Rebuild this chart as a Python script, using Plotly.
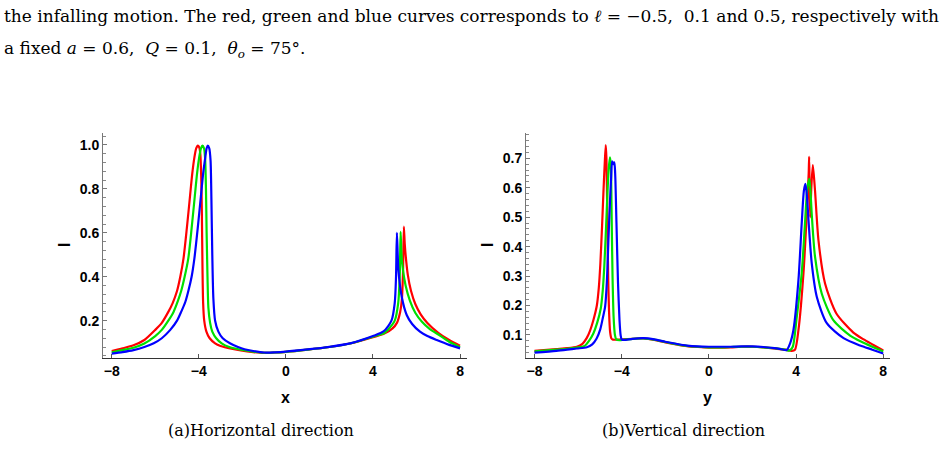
import plotly.graph_objects as go

# ---------------- data: (a) horizontal direction ----------------
h_red_x = [-8, -7.5, -7, -6.5, -6, -5.7, -5.4, -5.2, -5.0, -4.85, -4.7, -4.55, -4.4, -4.3, -4.2,
           -4.12, -4.05, -3.98, -3.93, -3.89, -3.86, -3.83, -3.80, -3.75, -3.65, -3.5, -3.25, -3.0,
           -2.5, -2.0, -1.5, -1.0, -0.5, 0, 1, 2, 3, 4, 4.5, 4.9, 5.1, 5.25, 5.33, 5.38, 5.42, 5.46,
           5.5, 5.6, 5.75, 5.95, 6.2, 6.5, 7.0, 7.5, 8]
h_red_I = [0.062, 0.074, 0.088, 0.112, 0.158, 0.190, 0.240, 0.280, 0.335, 0.400, 0.485, 0.620, 0.770,
           0.870, 0.945, 0.985, 0.997, 0.990, 0.960, 0.860, 0.700, 0.440, 0.280, 0.200, 0.150, 0.120,
           0.097, 0.085, 0.072, 0.063, 0.057, 0.053, 0.055, 0.058, 0.068, 0.080, 0.097, 0.125, 0.140,
           0.165, 0.190, 0.240, 0.300, 0.420, 0.628, 0.550, 0.500, 0.410, 0.335, 0.275, 0.228, 0.190,
           0.145, 0.112, 0.086]

h_green_x = [-8, -7.5, -7, -6.5, -6, -5.7, -5.4, -5.16, -4.96, -4.81, -4.65, -4.48, -4.33, -4.18,
             -4.08, -3.98, -3.9, -3.83, -3.76, -3.71, -3.67, -3.64, -3.60, -3.56, -3.48, -3.38, -3.2,
             -2.95, -2.6, -2.18, -1.5, -1.0, -0.5, 0, 1, 2, 3, 4, 4.5, 4.7, 5.0, 5.16, 5.23, 5.27,
             5.31, 5.38, 5.5, 5.7, 5.95, 6.25, 6.6, 7.08, 7.5, 8]
h_green_I = [0.056, 0.066, 0.077, 0.096, 0.130, 0.158, 0.200, 0.240, 0.290, 0.335, 0.400, 0.485, 0.620,
             0.770, 0.870, 0.945, 0.985, 0.997, 0.985, 0.940, 0.800, 0.600, 0.400, 0.260, 0.190, 0.150,
             0.120, 0.097, 0.080, 0.070, 0.059, 0.054, 0.055, 0.058, 0.068, 0.080, 0.097, 0.127, 0.143,
             0.160, 0.200, 0.280, 0.400, 0.605, 0.500, 0.430, 0.360, 0.290, 0.235, 0.195, 0.163, 0.132,
             0.104, 0.079]

h_blue_x = [-8, -7.5, -7, -6.5, -6.07, -5.7, -5.31, -5.0, -4.81, -4.62, -4.48, -4.33, -4.2, -4.05,
            -3.9, -3.8, -3.7, -3.64, -3.59, -3.52, -3.46, -3.42, -3.38, -3.33, -3.25, -3.1, -2.9,
            -2.57, -2.2, -1.9, -1.5, -1.0, -0.5, 0, 1, 2, 3, 4, 4.5, 4.85, 5.0, 5.06, 5.1, 5.17,
            5.32, 5.55, 5.8, 6.16, 6.5, 6.93, 7.5, 8]
h_blue_I = [0.050, 0.057, 0.066, 0.080, 0.097, 0.120, 0.158, 0.200, 0.240, 0.285, 0.335, 0.400, 0.485,
            0.620, 0.770, 0.870, 0.945, 0.985, 0.997, 0.985, 0.930, 0.750, 0.500, 0.300, 0.200, 0.150,
            0.120, 0.097, 0.080, 0.070, 0.062, 0.055, 0.056, 0.059, 0.069, 0.081, 0.098, 0.130, 0.152,
            0.200, 0.280, 0.400, 0.600, 0.430, 0.310, 0.226, 0.185, 0.150, 0.130, 0.112, 0.090, 0.074]

# ---------------- data: (b) vertical direction ----------------
v_red_x = [-8, -7, -6.5, -6.06, -5.8, -5.6, -5.45, -5.3, -5.14, -5.05, -4.98, -4.9, -4.84, -4.78,
           -4.73, -4.7, -4.66, -4.62, -4.58, -4.53, -4.47, -4.4, -4.2, -3.8, -3.3, -3.0, -2.5, -2.0,
           -1.5, -1.0, -0.5, 0, 0.5, 1, 1.5, 2, 2.5, 3.0, 3.5, 3.8, 3.95, 4.11, 4.34, 4.49, 4.58,
           4.6, 4.62, 4.65, 4.7, 4.77, 4.87, 5.03, 5.33, 5.85, 6.63, 7.1, 7.55, 8]
v_red_I = [0.046, 0.052, 0.055, 0.060, 0.070, 0.090, 0.115, 0.150, 0.200, 0.260, 0.340, 0.470, 0.580,
           0.680, 0.745, 0.700, 0.500, 0.300, 0.180, 0.110, 0.088, 0.084, 0.084, 0.086, 0.088, 0.088,
           0.083, 0.075, 0.068, 0.062, 0.059, 0.057, 0.057, 0.058, 0.060, 0.060, 0.058, 0.054, 0.050,
           0.046, 0.050, 0.117, 0.310, 0.510, 0.650, 0.705, 0.600, 0.500, 0.600, 0.677, 0.590, 0.420,
           0.275, 0.173, 0.108, 0.085, 0.066, 0.047]

v_green_x = [-8, -7, -6.5, -6.06, -5.7, -5.5, -5.3, -5.13, -4.96, -4.87, -4.8, -4.72, -4.66, -4.6,
             -4.54, -4.5, -4.46, -4.42, -4.37, -4.31, -4.25, -4.1, -3.5, -3.0, -2.5, -2.0, -1.5, -1.0,
             -0.5, 0, 0.5, 1, 1.5, 2, 2.5, 3.0, 3.5, 3.7, 3.85, 4.03, 4.26, 4.41, 4.52, 4.61, 4.66,
             4.72, 4.87, 5.18, 5.71, 6.48, 7.0, 7.5, 8]
v_green_I = [0.044, 0.050, 0.053, 0.057, 0.063, 0.080, 0.105, 0.140, 0.190, 0.250, 0.330, 0.460, 0.570,
             0.660, 0.703, 0.680, 0.500, 0.300, 0.160, 0.100, 0.085, 0.082, 0.087, 0.088, 0.084, 0.076,
             0.069, 0.063, 0.060, 0.058, 0.058, 0.059, 0.060, 0.060, 0.058, 0.055, 0.050, 0.047, 0.060,
             0.160, 0.310, 0.479, 0.600, 0.630, 0.590, 0.510, 0.366, 0.240, 0.150, 0.098, 0.077, 0.060,
             0.044]

v_blue_x = [-8, -7, -6.5, -6.06, -5.6, -5.35, -5.15, -4.98, -4.86, -4.76, -4.68, -4.61, -4.54, -4.48,
            -4.44, -4.39, -4.34, -4.3, -4.24, -4.17, -4.1, -4.05, -4.0, -3.9, -3.5, -3.0, -2.5, -2.0,
            -1.5, -1.0, -0.5, 0, 0.5, 1, 1.5, 2, 2.5, 3.0, 3.3, 3.57, 3.72, 3.88, 4.11, 4.26, 4.36,
            4.43, 4.5, 4.57, 4.72, 4.95, 5.41, 6.18, 6.94, 7.5, 8]
v_blue_I = [0.040, 0.046, 0.050, 0.054, 0.058, 0.068, 0.088, 0.120, 0.160, 0.196, 0.280, 0.420, 0.550,
            0.640, 0.690, 0.680, 0.686, 0.650, 0.480, 0.280, 0.150, 0.100, 0.085, 0.083, 0.087, 0.089,
            0.085, 0.077, 0.070, 0.064, 0.061, 0.060, 0.060, 0.060, 0.061, 0.061, 0.059, 0.055, 0.052,
            0.049, 0.070, 0.117, 0.287, 0.479, 0.590, 0.613, 0.570, 0.490, 0.343, 0.230, 0.140, 0.089,
            0.064, 0.050, 0.037]

x_ticks = [-8, -4, 0, 4, 8]
h_y_ticks = [0.2, 0.4, 0.6, 0.8, 1.0]
v_y_ticks = [0.1, 0.2, 0.3, 0.4, 0.5, 0.6, 0.7]

caption_line1 = ("the infalling motion. The red, green and blue curves corresponds to "
                 "<i>ℓ</i> = −0.5,  0.1 and 0.5, respectively with")
caption_line2 = "a fixed <i>a</i> = 0.6,  <i>Q</i> = 0.1,  <i>θ<sub>o</sub></i> = 75°."
sub_a = "(a)Horizontal direction"
sub_b = "(b)Vertical direction"

# ---------------- figure ----------------
W, H = 944, 452
RED, GREEN, BLUE = "#ff0000", "#00e000", "#0000ff"

fig = go.Figure()
for xs, ys, c in [(h_red_x, h_red_I, RED), (h_green_x, h_green_I, GREEN), (h_blue_x, h_blue_I, BLUE)]:
    fig.add_trace(go.Scatter(x=xs, y=ys, mode="lines",
                             line=dict(color=c, width=2.2, shape="spline", smoothing=0.7),
                             xaxis="x", yaxis="y", showlegend=False))
for xs, ys, c in [(v_red_x, v_red_I, RED), (v_green_x, v_green_I, GREEN), (v_blue_x, v_blue_I, BLUE)]:
    fig.add_trace(go.Scatter(x=xs, y=ys, mode="lines",
                             line=dict(color=c, width=2.2, shape="spline", smoothing=0.7),
                             xaxis="x2", yaxis="y2", showlegend=False))

tickfont = dict(family="Liberation Sans", size=14, color="#000000")
def xax(domain, rng):
    return dict(domain=domain, range=rng, showgrid=False, zeroline=False, showline=True,
                linecolor="#333333", linewidth=1, ticks="inside", ticklen=4, tickcolor="#555555",
                tickvals=x_ticks, ticktext=[f"<b>{'−' if v < 0 else ''}{abs(v)}</b>" for v in x_ticks],
                tickfont=tickfont)
def yax(domain, rng, vals, anchor, mdt):
    return dict(domain=domain, range=rng, showgrid=False, zeroline=False, showline=True,
                linecolor="#777777", linewidth=1, ticks="inside", ticklen=4, tickcolor="#777777",
                tickvals=vals, ticktext=[f"<b>{v:.1f}</b>" for v in vals], tickfont=tickfont,
                anchor=anchor,
                minor=dict(ticks="inside", ticklen=2.5, tickcolor="#888888", dtick=mdt, tick0=0))

ydom = [1 - 358.3 / H, 1 - 133 / H]
fig.update_layout(
    width=W, height=H, margin=dict(l=0, r=0, t=0, b=0),
    paper_bgcolor="white", plot_bgcolor="white",
    xaxis=dict(**xax([103 / W, 467 / W], [-8.40, 8.32]), anchor="y"),
    yaxis=yax(ydom, [0.0287, 1.0546], h_y_ticks, "x", 0.04),
    xaxis2=dict(**xax([526 / W, 890 / W], [-8.39, 8.31]), anchor="y2"),
    yaxis2=yax(ydom, [0.0207, 0.786], v_y_ticks, "x2", 0.02),
)

serif = dict(family="DejaVu Serif", size=17, color="#000000")
serif_sub = dict(family="DejaVu Serif", size=16, color="#000000")
lab = dict(family="Liberation Sans", size=16, color="#000000")
ann = [
    dict(x=2 / W, y=1 - 16 / H, text=caption_line1, xanchor="left", yanchor="middle", font=serif),
    dict(x=2 / W, y=1 - 49 / H, text=caption_line2, xanchor="left", yanchor="middle", font=serif),
    dict(x=261 / W, y=1 - 430 / H, text=sub_a, xanchor="center", yanchor="middle", font=serif_sub),
    dict(x=683 / W, y=1 - 430 / H, text=sub_b, xanchor="center", yanchor="middle", font=serif_sub),
    dict(x=285 / W, y=1 - 397 / H, text="<b>x</b>", xanchor="center", yanchor="middle", font=lab),
    dict(x=707 / W, y=1 - 397 / H, text="<b>y</b>", xanchor="center", yanchor="middle", font=lab),
    dict(x=64 / W, y=1 - 245 / H, text="<b>I</b>", xanchor="center", yanchor="middle", font=lab,
         textangle=-90),
    dict(x=487 / W, y=1 - 245 / H, text="<b>I</b>", xanchor="center", yanchor="middle", font=lab,
         textangle=-90),
]
for a in ann:
    a.update(xref="paper", yref="paper", showarrow=False)
fig.update_layout(annotations=ann)

fig.write_html("out.html")
